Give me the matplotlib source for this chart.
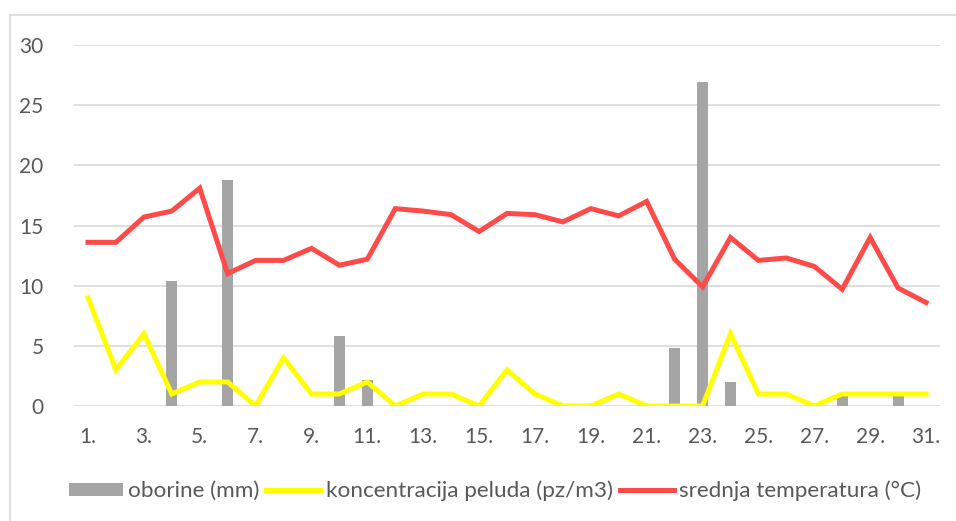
import matplotlib
matplotlib.use("Agg")
import matplotlib.pyplot as plt
from matplotlib.patches import Rectangle, Patch
from matplotlib.lines import Line2D

# days of the month
days = list(range(1, 32))
day_labels = [f"{d}." if d % 2 == 1 else "" for d in days]

# oborine (mm)
rain = [0, 0, 0, 10.4, 0, 18.8, 0, 0, 0, 5.8, 2.2, 0, 0, 0, 0, 0,
        0, 0, 0, 0, 0, 4.8, 26.9, 2.0, 0, 0, 0, 0.8, 0, 0.8, 0]
# koncentracija peluda (pz/m3)
pollen = [9, 3, 6, 1, 2, 2, 0, 4, 1, 1, 2, 0, 1, 1, 0, 3,
          1, 0, 0, 1, 0, 0, 0, 6, 1, 1, 0, 1, 1, 1, 1]
# srednja temperatura (°C)
temp = [13.6, 13.6, 15.7, 16.2, 18.1, 11.0, 12.1, 12.1, 13.1, 11.7, 12.2,
        16.4, 16.2, 15.9, 14.5, 16.0, 15.9, 15.3, 16.4, 15.8, 17.0, 12.2,
        9.9, 14.0, 12.1, 12.3, 11.6, 9.7, 14.0, 9.8, 8.6]

GRAY = "#a5a5a5"
YELLOW = "#ffff00"
RED = "#ff4a4a"
TXT = "#595959"
GRID = "#d9d9d9"

plt.rcParams["font.family"] = ["Lato", "DejaVu Sans"]

fig = plt.figure(figsize=(9.56, 5.21), dpi=100)
ax = fig.add_axes([74 / 956, 1 - 406 / 521, 866 / 956, 361 / 521])

ax.bar(days, rain, width=0.4, color=GRAY, zorder=2)
ax.plot(days, pollen, color=YELLOW, lw=3.6, solid_joinstyle="miter", zorder=3)
ax.plot(days, temp, color=RED, lw=3.6, solid_joinstyle="miter", zorder=4)

ax.set_xlim(0.5, 31.5)
ax.set_ylim(0, 30)
ax.set_yticks(range(0, 31, 5))
ax.set_xticks(days)
ax.set_xticklabels(day_labels)
ax.tick_params(length=0, labelsize=15, colors=TXT)
ax.tick_params(axis="y", pad=22)
ax.tick_params(axis="x", pad=15)
ax.grid(axis="y", color=GRID, lw=1.2, zorder=0)
ax.set_axisbelow(True)
for sp in ax.spines.values():
    sp.set_visible(False)

# chart frame (only left/top edges fall inside the picture)
fig.patches.append(Rectangle((10 / 956, -0.2), 1.2, 1.2 - 15 / 521,
                             transform=fig.transFigure, fill=False,
                             edgecolor=GRID, lw=1.2))

handles = [
    Patch(facecolor=GRAY, label="oborine (mm)"),
    Line2D([], [], color=YELLOW, lw=3.6, label="koncentracija peluda (pz/m3)"),
    Line2D([], [], color=RED, lw=3.6, label="srednja temperatura (°C)"),
]
fig.legend(handles=handles, loc="center", bbox_to_anchor=(495 / 956, 1 - 491 / 521),
           ncol=3, frameon=False, fontsize=16.2, labelcolor=TXT,
           handlelength=2.4, handleheight=0.5, handletextpad=0.25, columnspacing=0.3)

fig.savefig("out.png", facecolor="white")
